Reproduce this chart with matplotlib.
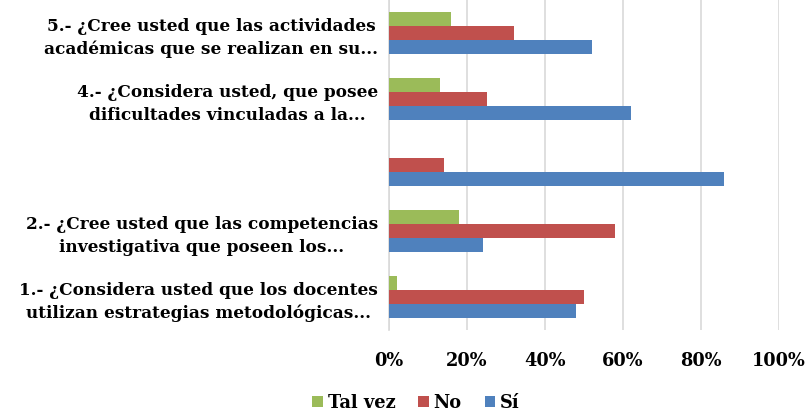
import numpy as np
import matplotlib.pyplot as plt

# Preguntas (de abajo hacia arriba)
labels = [
    "1.- ¿Considera usted que los docentes\nutilizan estrategias metodológicas...",
    "2.- ¿Cree usted que las competencias\ninvestigativa que poseen los...",
    "",
    "4.- ¿Considera usted, que posee\ndificultades vinculadas a la...",
    "5.- ¿Cree usted que las actividades\nacadémicas que se realizan en su...",
]
si = [48, 24, 86, 62, 52]
no = [50, 58, 14, 25, 32]
tal_vez = [2, 18, 0, 13, 16]

xticks = [0, 20, 40, 60, 80, 100]

plt.rcParams['font.family'] = ['DejaVu Serif']
plt.rcParams['font.weight'] = 'bold'

fig = plt.figure(figsize=(8.11, 4.13), dpi=100)
ax = fig.add_axes([389 / 811, (413 - 330) / 413, 390 / 811, 330 / 413])

y = np.arange(len(labels))
h = 0.21
ax.barh(y - h, si, height=h, color='#4F81BD', label='Sí', zorder=3)
ax.barh(y, no, height=h, color='#C0504D', label='No', zorder=3)
ax.barh(y + h, tal_vez, height=h, color='#9BBB59', label='Tal vez', zorder=3)

ax.set_xlim(0, 100)
ax.set_ylim(-0.5, len(labels) - 0.5)
ax.set_xticks(xticks)
ax.set_xticklabels([f"{v}%" for v in xticks], fontsize=12.8, fontweight='bold')
ax.set_yticks(y)
ax.set_yticklabels(labels, fontsize=12.2, fontweight='bold', ha='right',
                   multialignment='center', linespacing=1.45)
ax.tick_params(axis='both', length=0)
ax.tick_params(axis='x', pad=16)
ax.tick_params(axis='y', pad=8)
ax.grid(axis='x', color='#d9d9d9', linewidth=1.2, zorder=0)
for s in ['top', 'right', 'bottom']:
    ax.spines[s].set_visible(False)
ax.spines['left'].set_color('#d9d9d9')
ax.spines['left'].set_linewidth(1.2)

handles, lbls = ax.get_legend_handles_labels()
fig.legend(handles[::-1], lbls[::-1], loc='center', bbox_to_anchor=(416 / 811, 1 - 403 / 413),
           ncol=3, frameon=False, prop={'size': 12.8, 'weight': 'bold'},
           handlelength=0.6, handleheight=0.6, handletextpad=0.25, columnspacing=1.3)

plt.savefig("out.png", dpi=100)
